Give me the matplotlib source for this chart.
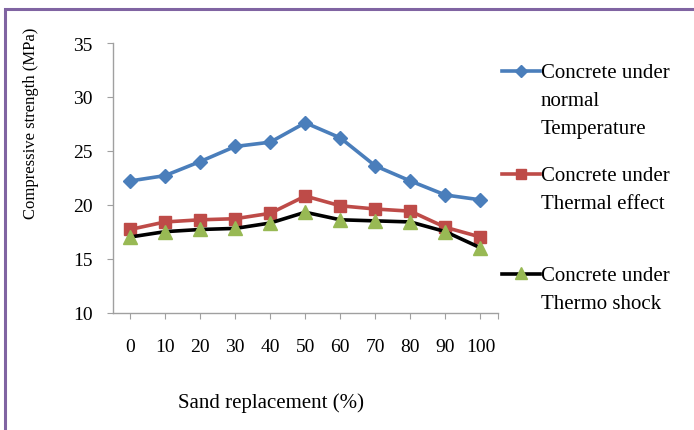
import matplotlib
matplotlib.use("Agg")
import matplotlib.pyplot as plt
from matplotlib.lines import Line2D
from matplotlib.patches import Rectangle

# ---- data ----
sand_replacement = [0, 10, 20, 30, 40, 50, 60, 70, 80, 90, 100]
normal_temp = [22.2, 22.7, 24.0, 25.4, 25.8, 27.6, 26.2, 23.6, 22.2, 20.9, 20.45]
thermal_effect = [17.7, 18.4, 18.6, 18.7, 19.2, 20.8, 19.9, 19.6, 19.4, 17.9, 17.0]
thermo_shock = [17.0, 17.5, 17.7, 17.8, 18.3, 19.3, 18.6, 18.5, 18.4, 17.5, 16.0]
series_labels = ["Concrete under\nnormal\nTemperature",
                 "Concrete under\nThermal effect",
                 "Concrete under\nThermo shock"]
y_ticks = [10, 15, 20, 25, 30, 35]
x_tick_labels = [str(v) for v in sand_replacement]

plt.rcParams['font.family'] = ['Liberation Serif', 'DejaVu Serif']
FS_TICK = 14
FS_YLAB = 12
FS_XLAB = 15
FS_LEG = 15

W, H = 694, 431
fig = plt.figure(figsize=(W / 100, H / 100), dpi=100)
fig.patch.set_facecolor('white')

def fx(px):
    return px / W

def fy(py):
    return 1 - py / H

ax_left, ax_right, ax_top, ax_bottom = 112.5, 498, 44, 313.5
ax = fig.add_axes([fx(ax_left), fy(ax_bottom), (ax_right - ax_left) / W, (ax_bottom - ax_top) / H])

blue = '#4A7EBB'
red = '#BE4B48'
green = '#98B954'

styles = [
    dict(color=blue, marker='D', markersize=7.5, markerfacecolor=blue, markeredgecolor=blue, lw=2.6),
    dict(color=red, marker='s', markersize=9, markerfacecolor=red, markeredgecolor=red, lw=2.6),
    dict(color='black', marker='^', markersize=10, markerfacecolor=green, markeredgecolor=green, lw=2.6),
]
for vals, st in zip([normal_temp, thermal_effect, thermo_shock], styles):
    ax.plot(sand_replacement, vals, clip_on=False, zorder=3, **st)

ax.set_xlim(-5, 105)
ax.set_ylim(10, 35)
ax.set_yticks(y_ticks)
ax.set_xticks(sand_replacement)
ax.set_xticklabels(x_tick_labels)
ax.set_xticks([105], minor=True)
for s in ['top', 'right']:
    ax.spines[s].set_visible(False)
for s in ['left', 'bottom']:
    ax.spines[s].set_color('#A0A0A0')
    ax.spines[s].set_linewidth(1.0)
ax.tick_params(axis='y', direction='out', length=4.5, width=0.8, color='#A0A0A0', pad=10, labelsize=FS_TICK)
ax.tick_params(axis='x', which='both', direction='out', length=4, width=0.8, color='#A0A0A0', pad=14, labelsize=FS_TICK)

ax.set_ylabel('Compressive strength (MPa)', fontsize=FS_YLAB)
ax.yaxis.set_label_coords((31 - ax_left) / (ax_right - ax_left), (ax_bottom - 123) / (ax_bottom - ax_top))
ax.set_xlabel('Sand replacement (%)', fontsize=FS_XLAB)
ax.xaxis.set_label_coords((271 - ax_left) / (ax_right - ax_left), (ax_bottom - 403) / (ax_bottom - ax_top))
ax.xaxis.label.set_verticalalignment('center')
ax.yaxis.label.set_verticalalignment('center')

# ---- legend (manual, to mimic layout) ----
legend_rows = [72, 175, 275]
for label, st, ry in zip(series_labels, styles, legend_rows):
    ln = Line2D([fx(502), fx(540)], [fy(ry), fy(ry)], transform=fig.transFigure,
                color=st['color'], lw=st['lw'])
    mk = Line2D([fx(521)], [fy(ry - (1.5 if st['marker'] == '^' else 0))], transform=fig.transFigure,
                linestyle='none', marker=st['marker'], markersize=st['markersize'] * 0.85,
                markerfacecolor=st['markerfacecolor'], markeredgecolor=st['markeredgecolor'])
    fig.add_artist(ln)
    fig.add_artist(mk)
    fig.text(fx(541), fy(ry - 8), label, fontsize=FS_LEG, va='top', ha='left', linespacing=1.65)

# ---- outer purple frame ----
frame = Rectangle((fx(5), -0.2), 1.5, fy(10) + 0.2, transform=fig.transFigure,
                  fill=False, edgecolor='#8064A2', linewidth=2.2, clip_on=False)
fig.add_artist(frame)

fig.savefig('out.png', dpi=100, facecolor='white')
